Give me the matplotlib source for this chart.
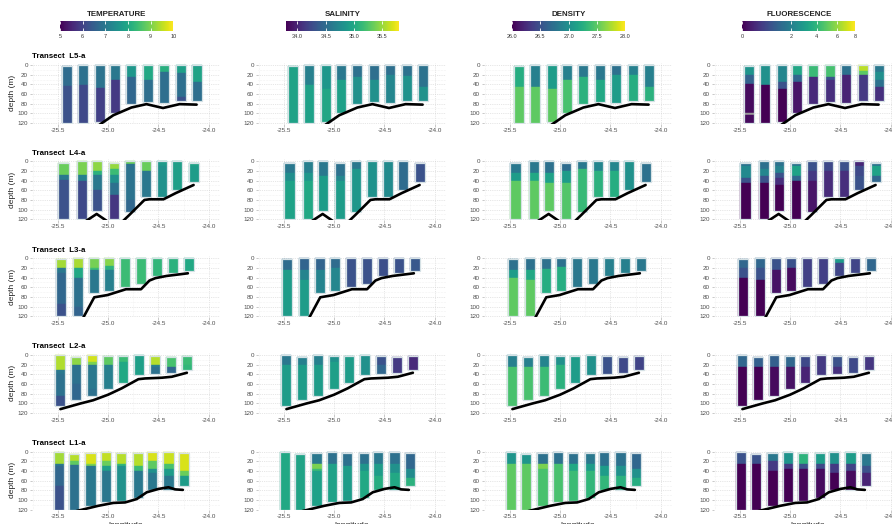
import numpy as np
import matplotlib
matplotlib.use('Agg')
import matplotlib.pyplot as plt
from matplotlib import colors, cm

plt.rcParams['font.family'] = ['Liberation Sans', 'DejaVu Sans']

# ---------------- data ----------------
# station longitude, first / last sampled depth, bathymetry, and for every
# variable a profile per station given as (layer start depth, value)

# Transect L5-a
lon_L5 = [-25.41, -25.25, -25.085, -24.93, -24.77, -24.605, -24.445, -24.28, -24.117]
top_L5 = [2, 0, 0, 0, 0, 0, 0, 0, 0]
bot_L5 = [120, 120, 118, 99, 80, 76, 78, 75, 74]
bathy_lon_L5 = [-25.09, -24.95, -24.77, -24.62, -24.455, -24.29, -24.12]
bathy_dep_L5 = [124, 104, 88, 81, 89, 81, 82]
temp_L5 = [[(0, 6.75), (44, 6.25)], [(0, 6.85), (42, 6.1)], [(0, 6.9), (48, 5.95)],
           [(0, 7.0), (30, 5.85)], [(0, 7.65), (25, 6.65)], [(0, 8.0), (30, 6.8)],
           [(0, 8.15), (15, 6.8)], [(0, 7.8), (16, 6.8), (66, 6.25)],
           [(0, 7.6), (5, 7.9), (35, 6.8)]]
sal_L5 = [[(0, 34.95)], [(0, 34.66), (42, 34.94)], [(0, 34.86), (50, 34.98)],
          [(0, 34.6), (32, 34.93)], [(0, 34.54), (25, 34.8)], [(0, 34.52), (30, 34.8)],
          [(0, 34.52), (20, 34.72)], [(0, 34.54), (22, 34.82)], [(0, 34.55), (45, 34.82)]]
dens_L5 = [[(0, 27.24), (45, 27.5)], [(0, 26.86), (45, 27.5)], [(0, 27.1), (50, 27.5)],
           [(0, 26.86), (32, 27.42)], [(0, 26.8), (25, 27.28)], [(0, 26.8), (30, 27.2)],
           [(0, 26.74), (20, 27.1)], [(0, 26.86), (20, 27.24)], [(0, 26.86), (45, 27.28)]]
fluo_L5 = [[(0, 2.7), (20, 1.15), (40, 0.02), (100, np.nan), (103, 0.02)],
           [(0, 2.54), (42, 0.0)], [(0, 2.2), (35, 0.8), (50, 0.0)],
           [(0, 3.4), (20, 1.27), (35, 0.07)], [(0, 4.2), (25, 0.23)],
           [(0, 4.5), (25, 0.8), (30, 0.28)], [(0, 1.55), (20, 0.17)],
           [(0, 6.7), (12, 4.9), (20, 0.42)], [(0, 1.75), (15, 2.5), (30, 1.55), (45, 0.3)]]

# Transect L4-a
lon_L4 = [-25.446, -25.266, -25.11, -24.94, -24.786, -24.626, -24.466, -24.313, -24.146]
top_L4 = [3, 0, 0, 3, 0, 0, 0, 0, 3]
bot_L4 = [120, 120, 102, 120, 105, 73, 73, 59, 43]
bathy_lon_L4 = [-25.24, -25.116, -24.99, -24.87, -24.79, -24.64, -24.59, -24.45, -24.33, -24.15]
bathy_dep_L4 = [126, 109, 127, 127, 111, 80, 78.6, 78.6, 66, 49]
temp_L4 = [[(0, 8.85), (28, 7.0), (38, 6.25)], [(0, 9.0), (28, 7.15), (40, 6.1)],
           [(0, 9.15), (20, 8.2), (28, 7.0), (60, 6.25)],
           [(0, 9.2), (15, 8.4), (28, 7.5), (45, 6.85), (70, 5.8)],
           [(0, 8.85), (6, 6.9), (80, 6.65)], [(0, 8.85), (20, 7.0)],
           [(0, 7.7), (10, 7.5)], [(0, 7.8)], [(0, 7.9), (10, 7.75)]]
sal_L4 = [[(0, 34.6), (25, 34.78), (40, 34.95)], [(0, 34.66), (25, 34.86), (40, 35.0)],
          [(0, 34.6), (30, 34.9)], [(0, 34.54), (30, 34.72), (40, 34.9)],
          [(0, 34.6), (15, 34.86)], [(0, 34.82)], [(0, 34.76)], [(0, 34.5)], [(0, 34.3)]]
dens_L4 = [[(0, 26.8), (25, 27.1), (40, 27.5)], [(0, 26.8), (25, 27.2), (40, 27.5)],
           [(0, 26.74), (25, 27.14), (45, 27.5)], [(0, 26.7), (20, 27.1), (45, 27.46)],
           [(0, 26.8), (15, 27.35)], [(0, 26.92), (20, 27.28)], [(0, 26.92), (20, 27.24)],
           [(0, 27.0)], [(0, 26.74)]]
fluo_L4 = [[(0, 1.55), (10, 2.3), (35, 0.8), (45, 0.0)],
           [(0, 1.55), (15, 2.2), (30, 0.8), (45, 0.0)],
           [(0, 1.55), (10, 2.0), (25, 0.8), (35, 0.28), (50, 0.0)],
           [(0, 1.55), (10, 3.2), (30, 1.27), (40, 0.0)],
           [(0, 0.8), (20, 0.42), (40, 0.07)], [(0, 0.64), (20, 0.25)],
           [(0, 0.8), (20, 0.28)], [(0, 0.2), (10, 0.64), (30, 0.8)],
           [(0, 1.55), (10, 3.2), (30, 1.27)]]

# Transect L3-a
lon_L3 = [-25.47, -25.297, -25.147, -24.994, -24.832, -24.674, -24.517, -24.357, -24.2]
top_L3 = [1, 0, 0, 0, 0, 0, 0, 0, 0]
bot_L3 = [120, 120, 71, 67, 59, 54, 36.5, 31, 25.5]
bathy_lon_L3 = [-25.26, -25.14, -25.007, -24.824, -24.674, -24.59, -24.53, -24.42, -24.207]
bathy_dep_L3 = [127, 80.7, 76, 64, 64, 46, 41, 36.5, 31]
temp_L3 = [[(0, 9.3), (20, 7.0), (30, 6.65), (95, 6.25)],
           [(0, 9.35), (20, 8.0), (40, 6.85), (100, 6.6)],
           [(0, 8.95), (20, 8.4), (25, 7.0)], [(0, 9.1), (15, 8.2), (25, 7.15)],
           [(0, 8.4)], [(0, 8.4)], [(0, 8.3)], [(0, 8.2)], [(0, 8.0)]]
sal_L3 = [[(0, 34.5), (25, 34.9)], [(0, 34.44), (25, 34.7), (45, 34.9)],
          [(0, 34.44), (25, 34.7)], [(0, 34.5), (20, 34.72)],
          [(0, 34.3)], [(0, 34.3)], [(0, 34.28)], [(0, 34.3)], [(0, 34.34)]]
dens_L3 = [[(0, 26.74), (25, 27.1), (40, 27.5)], [(0, 26.74), (25, 27.2), (45, 27.5)],
           [(0, 26.74), (22, 27.24)], [(0, 26.74), (18, 27.24)],
           [(0, 26.8)], [(0, 26.8)], [(0, 26.86)], [(0, 26.86)], [(0, 26.8)]]
fluo_L3 = [[(0, 1.27), (20, 0.8), (40, 0.0)], [(0, 1.27), (20, 0.8), (45, 0.0)],
           [(0, 0.8), (25, 0.05)], [(0, 0.8), (20, 0.02)],
           [(0, 0.5)], [(0, 0.5)], [(0, 2.9), (10, 0.6)], [(0, 0.6)], [(0, 1.27)]]

# Transect L2-a
lon_L2 = [-25.48, -25.32, -25.163, -25.007, -24.85, -24.692, -24.53, -24.375, -24.217]
top_L2 = [0, 3.5, 0, 2, 2, 0, 2, 3.5, 2]
bot_L2 = [106, 94, 85, 71, 58, 42, 40, 38, 31]
bathy_lon_L2 = [-25.477, -25.28, -25.15, -25.0, -24.867, -24.7, -24.633, -24.467, -24.367, -24.217]
bathy_dep_L2 = [112, 100.5, 93.6, 82, 69, 50, 48.5, 47, 45, 36.7]
temp_L2 = [[(0, 9.4), (30, 7.0), (40, 6.85), (85, 6.25)],
           [(0, 9.15), (20, 6.85), (60, 6.65)],
           [(0, 9.65), (15, 9.0), (20, 7.0), (70, 6.85)],
           [(0, 8.75), (20, 7.15)], [(0, 8.4), (15, 8.0)], [(0, 7.8)],
           [(0, 9.45), (20, 7.15), (25, 6.85)], [(0, 8.55), (25, 6.65)],
           [(0, 8.4), (20, 8.3)]]
sal_L2 = [[(0, 34.6), (20, 34.9)], [(0, 34.66), (20, 34.9)], [(0, 34.66), (20, 34.9)],
          [(0, 34.8), (15, 34.92)], [(0, 34.9)], [(0, 34.8)],
          [(0, 34.3), (20, 34.46)], [(0, 34.14)], [(0, 34.04)]]
dens_L2 = [[(0, 26.86), (25, 27.42)], [(0, 26.86), (25, 27.42)], [(0, 26.9), (25, 27.36)],
           [(0, 27.0), (20, 27.28)], [(0, 27.1)], [(0, 27.0)],
           [(0, 26.5)], [(0, 26.44)], [(0, 26.4)]]
fluo_L2 = [[(0, 1.27), (25, 0.0)], [(0, 1.1), (25, 0.0)], [(0, 1.1), (25, 0.02)],
           [(0, 1.27), (25, 0.05)], [(0, 0.64), (25, 0.17)], [(0, 0.42)],
           [(0, 0.8), (25, 0.3)], [(0, 0.64)], [(0, 0.38)]]

# Transect L1-a
lon_L1 = [-25.487, -25.34, -25.177, -25.023, -24.87, -24.708, -24.56, -24.4, -24.247]
top_L1 = [0, 5, 2, 0, 2, 2, 0, 0, 2]
bot_L1 = [120, 120, 113, 105, 103, 96, 80, 79, 72]
bathy_lon_L1 = [-25.32, -25.1, -24.95, -24.833, -24.717, -24.617, -24.5, -24.4, -24.333, -24.257]
bathy_dep_L1 = [123, 112, 106, 105, 98, 84, 77, 73.6, 78, 79]
temp_L1 = [[(0, 9.3), (25, 7.0), (30, 6.65), (70, 6.25)],
           [(0, 9.45), (20, 8.75), (28, 6.85)],
           [(0, 9.7), (25, 9.0), (30, 7.0)],
           [(0, 9.55), (20, 8.85), (30, 7.8), (40, 7.0)],
           [(0, 9.45), (25, 8.3), (30, 7.5)],
           [(0, 9.45), (30, 8.4), (40, 7.0)],
           [(0, 9.7), (20, 8.75), (35, 7.5), (45, 7.0)],
           [(0, 9.6), (25, 8.55), (35, 7.75), (50, 7.0)],
           [(0, 9.7), (40, 8.85), (50, 7.75)]]
sal_L1 = [[(0, 35.0)], [(0, 34.96)], [(0, 34.6), (25, 35.4), (35, 35.16), (40, 34.94)],
          [(0, 34.54), (25, 34.94)], [(0, 34.54), (30, 34.9)],
          [(0, 34.54), (25, 34.84), (40, 35.0)], [(0, 34.6), (25, 34.9), (50, 35.04)],
          [(0, 34.54), (25, 34.8), (45, 35.0)], [(0, 34.46), (35, 34.76), (55, 35.08)]]
dens_L1 = [[(0, 27.04), (25, 27.5)], [(0, 27.04), (25, 27.5)],
           [(0, 26.74), (25, 27.6), (35, 27.42)], [(0, 26.74), (25, 27.42)],
           [(0, 26.74), (25, 27.2), (40, 27.36)], [(0, 26.8), (25, 27.1), (40, 27.32)],
           [(0, 26.74), (30, 27.1), (50, 27.32)], [(0, 26.74), (30, 27.0), (50, 27.28)],
           [(0, 26.66), (35, 27.0), (55, 27.24)]]
fluo_L1 = [[(0, 0.8), (25, 0.0)], [(0, 0.8), (25, 0.0)],
           [(0, 1.75), (20, 0.42), (40, 0.0)], [(0, 2.7), (25, 0.42), (35, 0.0)],
           [(0, 3.9), (25, 0.8), (35, 0.01)], [(0, 2.96), (25, 0.64), (35, 0.02)],
           [(0, 2.54), (25, 0.42), (45, 0.0)], [(0, 2.96), (25, 0.55), (40, 0.02)],
           [(0, 1.75), (30, 0.8), (45, 0.17)]]

var_titles = ['TEMPERATURE', 'SALINITY', 'DENSITY', 'FLUORESCENCE']
cb_ticks = [[5, 6, 7, 8, 9, 10], [34.0, 34.5, 35.0, 35.5],
            [26.0, 26.5, 27.0, 27.5, 28.0], [0, 2, 4, 6, 8]]
cb_labels = [['5', '6', '7', '8', '9', '10'], ['34.0', '34.5', '35.0', '35.5'],
             ['26.0', '26.5', '27.0', '27.5', '28.0'], ['0', '2', '4', '6', '8']]
lon_ticks = [-25.5, -25.0, -24.5, -24.0]
lon_labels = ['-25.5', '-25.0', '-24.5', '-24.0']

transects = [
    ('L5-a', lon_L5, top_L5, bot_L5, bathy_lon_L5, bathy_dep_L5, [temp_L5, sal_L5, dens_L5, fluo_L5]),
    ('L4-a', lon_L4, top_L4, bot_L4, bathy_lon_L4, bathy_dep_L4, [temp_L4, sal_L4, dens_L4, fluo_L4]),
    ('L3-a', lon_L3, top_L3, bot_L3, bathy_lon_L3, bathy_dep_L3, [temp_L3, sal_L3, dens_L3, fluo_L3]),
    ('L2-a', lon_L2, top_L2, bot_L2, bathy_lon_L2, bathy_dep_L2, [temp_L2, sal_L2, dens_L2, fluo_L2]),
    ('L1-a', lon_L1, top_L1, bot_L1, bathy_lon_L1, bathy_dep_L1, [temp_L1, sal_L1, dens_L1, fluo_L1]),
]

# ---------------- plotting ----------------
cmap = plt.get_cmap('viridis').with_extremes(bad='#9a9a9a')
norms = [colors.Normalize(5, 10), colors.Normalize(33.8, 35.8),
         colors.Normalize(26, 28), colors.PowerNorm(gamma=0.6, vmin=0, vmax=8.05)]

W, H = 892, 524
fig = plt.figure(figsize=(W / 100, H / 100), dpi=100)


def px_axes(x, y, w, h):
    return fig.add_axes([x / W, 1 - (y + h) / H, w / W, h / H])


col_left = [32, 258, 484, 714]
row_top = [63.1, 159.4, 256.4, 353.1, 449.8]
ax_w, ax_h = 187.7, 60.6


def draw_profiles(ax, lon, top, bot, profiles, norm):
    for x, t, b, prof in zip(lon, top, bot, profiles):
        starts = [max(s, t) for s, v in prof]
        ends = starts[1:] + [b]
        for s, e, (_, v) in zip(starts, ends, prof):
            c = cmap(norm(v))
            ax.bar(x, e - s, bottom=s, width=0.1, color=c, edgecolor=c,
                   linewidth=0.3, zorder=2)
        ax.bar(x, b - t, bottom=t, width=0.1, fill=False, edgecolor='#d5e1e5',
               linewidth=0.9, zorder=3)


for r, (name, lon, top, bot, blon, bdep, profs) in enumerate(transects):
    for c in range(4):
        ax = px_axes(col_left[c], row_top[r], ax_w, ax_h)
        draw_profiles(ax, lon, top, bot, profs[c], norms[c])
        ax.plot(blon, bdep, color='black', lw=1.9, zorder=4, solid_capstyle='round')
        ax.set_xlim(-25.76, -23.89)
        ax.set_ylim(121.5, -4)
        ax.set_xticks(lon_ticks)
        ax.set_xticklabels(lon_labels)
        ax.set_yticks(range(0, 121, 20))
        ax.set_xticks([-25.75, -25.25, -24.75, -24.25], minor=True)
        ax.set_yticks(range(10, 120, 20), minor=True)
        ax.tick_params(labelsize=4.5, labelcolor='#4d4d4d', color='#b3b3b3',
                       length=1.8, width=0.5, pad=1)
        ax.tick_params(which='minor', length=0)
        for sp in ax.spines.values():
            sp.set_visible(False)
        ax.grid(True, which='major', ls=':', lw=0.5, color='#cfcfcf')
        ax.grid(True, which='minor', ls=':', lw=0.4, color='#e6e6e6')
        ax.set_axisbelow(True)
        if c == 0:
            ax.set_ylabel('depth (m)', fontsize=6, labelpad=1, color='#222222')
            ax.annotate('Transect  ' + name, xy=(0, 1), xycoords='axes fraction',
                        xytext=(0, 2), textcoords='offset points', ha='left',
                        va='bottom', fontsize=5.7, weight='bold')
        if r == 4:
            ax.set_xlabel('longitude', fontsize=6, labelpad=2, color='#222222')

# colour bars on top
for c in range(4):
    cx = col_left[c] + 28
    cax = px_axes(cx, 21, 113.4, 10)
    cb = fig.colorbar(cm.ScalarMappable(norm=norms[c], cmap=cmap), cax=cax,
                      orientation='horizontal')
    cb.outline.set_visible(False)
    cb.set_ticks(cb_ticks[c])
    cb.set_ticklabels(cb_labels[c])
    cax.xaxis.set_ticks_position('both')
    cax.tick_params(labelsize=4, labelcolor='#333333', length=2, width=0.6,
                    color='white', direction='in', pad=2, labeltop=False)
    cax.tick_params(which='minor', length=0)
    fig.text((cx + 56.7) / W, 1 - 14 / H, var_titles[c], ha='center', va='center',
             fontsize=5.7, weight='bold', color='#222222')

fig.savefig('out.png', dpi=100, facecolor='white')
